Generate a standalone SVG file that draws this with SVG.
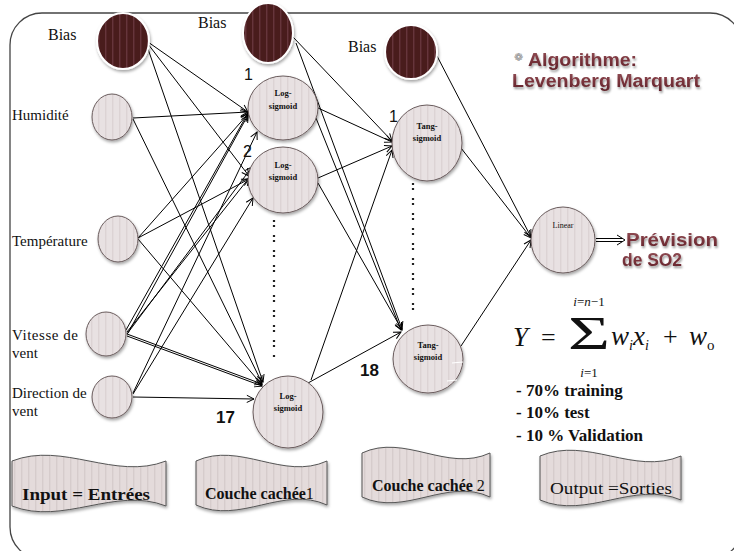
<svg xmlns="http://www.w3.org/2000/svg" width="734" height="551" viewBox="0 0 734 551">
  <defs>
    <style>
      .serif { font-family: "Liberation Serif", "Times New Roman", serif; fill: #111; }
      .sans { font-family: "Liberation Sans", Arial, sans-serif; fill: #111; }
      .lbl { font-size: 15px; }
      .bias-lbl { font-size: 16px; }
      .node-txt { font-size: 8.5px; font-weight: bold; text-anchor: middle; }
      .edge { stroke: #000; stroke-width: 1; fill: none; marker-end: url(#arr); }
      .plain { stroke: #000; stroke-width: 1; fill: none; }
      .neuron { fill: url(#stripeLight); stroke: #6a5c5d; stroke-width: 1; filter: url(#shadow); }
      .bias { fill: url(#stripeDark); stroke: #fff; stroke-width: 2; filter: url(#shadow); }
      .flag { fill: url(#stripeFlag); stroke: #555; stroke-width: 1; filter: url(#shadow); }
      .dots { stroke: #222; stroke-width: 2.2; stroke-dasharray: 2 3 2 8; fill: none; }
      .title { font-family: "Liberation Sans", Arial, sans-serif; font-weight: bold; font-size: 18px; fill: url(#maroon); filter: url(#txtShadow); }
      .flag-txt { font-family: "Liberation Serif", "Times New Roman", serif; font-size: 16px; fill: #111; }
      .stat { font-family: "Liberation Serif", "Times New Roman", serif; font-size: 17px; font-weight: bold; fill: #111; }
      .math { font-family: "Liberation Serif", "Times New Roman", serif; fill: #111; }
    </style>
    <pattern id="stripeLight" width="7" height="10" patternUnits="userSpaceOnUse">
      <rect width="7" height="10" fill="#e8e1e2"/>
      <rect x="0" width="1.4" height="10" fill="#dcd3d4"/>
    </pattern>
    <pattern id="stripeFlag" width="7" height="10" patternUnits="userSpaceOnUse">
      <rect width="7" height="10" fill="#e4dbdb"/>
      <rect x="0" width="1.4" height="10" fill="#d6cccc"/>
    </pattern>
    <pattern id="stripeDark" width="7" height="10" patternUnits="userSpaceOnUse">
      <rect width="7" height="10" fill="#4a1c1f"/>
      <rect x="0" width="1.4" height="10" fill="#66343a"/>
    </pattern>
    <linearGradient id="maroon" x1="0" y1="0" x2="0" y2="1">
      <stop offset="0" stop-color="#94525a"/>
      <stop offset="0.5" stop-color="#7a343c"/>
      <stop offset="1" stop-color="#5e2229"/>
    </linearGradient>
    <filter id="shadow" x="-20%" y="-20%" width="150%" height="150%">
      <feDropShadow dx="1" dy="2" stdDeviation="1.5" flood-color="#000" flood-opacity="0.35"/>
    </filter>
    <filter id="txtShadow" x="-10%" y="-20%" width="120%" height="160%">
      <feDropShadow dx="1" dy="2" stdDeviation="1.2" flood-color="#000" flood-opacity="0.4"/>
    </filter>
    <marker id="arr" viewBox="0 0 10 10" refX="9" refY="5" markerWidth="9" markerHeight="9" markerUnits="userSpaceOnUse" orient="auto">
      <path d="M1,1 L9,5 L1,9" fill="none" stroke="#000" stroke-width="1.1"/>
    </marker>
  </defs>

  <!-- frame -->
  <rect x="10" y="13" width="732" height="546" rx="32" ry="32" fill="#fff" stroke="#444" stroke-width="1.3"/>

  <!-- connectors -->
  <g id="connectors">
    <!-- bias 1 to hidden layer 1 -->
    <line class="edge" x1="148" y1="42" x2="248" y2="112"/>
    <line class="edge" x1="148" y1="44" x2="249" y2="176"/>
    <line class="edge" x1="147" y1="46" x2="263" y2="382"/>
    <!-- humidité -->
    <line class="edge" x1="133" y1="118" x2="248" y2="112"/>
    <line class="edge" x1="133" y1="119" x2="262" y2="383"/>
    <!-- température -->
    <line class="edge" x1="138" y1="238" x2="248" y2="114"/>
    <line class="edge" x1="138" y1="238" x2="249" y2="179"/>
    <line class="edge" x1="138" y1="239" x2="262" y2="385"/>
    <!-- vitesse de vent -->
    <line class="edge" x1="126" y1="330" x2="248" y2="113"/>
    <line class="edge" x1="128" y1="333" x2="248" y2="115"/>
    <line class="edge" x1="127" y1="332" x2="249" y2="178"/>
    <line class="edge" x1="127" y1="334" x2="252" y2="167"/>
    <line class="edge" x1="127" y1="334" x2="262" y2="384"/>
    <line class="edge" x1="127" y1="336" x2="262" y2="386"/>
    <!-- direction de vent -->
    <line class="edge" x1="133" y1="393" x2="257" y2="132"/>
    <line class="edge" x1="133" y1="394" x2="253" y2="198"/>
    <line class="edge" x1="133" y1="397" x2="254" y2="399"/>
    <!-- hidden 1 to hidden 2 -->
    <line class="edge" x1="318" y1="108" x2="392" y2="142"/>
    <line class="edge" x1="318" y1="178" x2="392" y2="146"/>
    <line class="edge" x1="311" y1="380" x2="392" y2="150"/>
    <line class="edge" x1="316" y1="118" x2="401" y2="330"/>
    <line class="edge" x1="318" y1="183" x2="402" y2="330"/>
    <line class="edge" x1="308" y1="383" x2="401" y2="332"/>
    <!-- bias 2 -->
    <line class="edge" x1="293" y1="37" x2="392" y2="141"/>
    <line class="edge" x1="296" y1="43" x2="402" y2="329"/>
    <!-- hidden 2 to output -->
    <line class="edge" x1="437" y1="56" x2="531" y2="237"/>
    <line class="edge" x1="461" y1="148" x2="531" y2="238"/>
    <line class="edge" x1="461" y1="346" x2="531" y2="240"/>
    <!-- output arrow -->
    <line class="plain" x1="596" y1="238.5" x2="622" y2="238.5"/>
    <line class="plain" x1="596" y1="241.5" x2="622" y2="241.5"/>
    <path class="plain" d="M617,235 L625,240 L617,245"/>
  </g>

  <!-- ellipsis between neurons -->
  <line class="dots" x1="274" y1="220" x2="274" y2="360"/>
  <line class="dots" x1="413" y1="183" x2="413" y2="318"/>

  <!-- input labels -->
  <text class="serif bias-lbl" x="48" y="40">Bias</text>
  <text class="serif bias-lbl" x="198" y="28">Bias</text>
  <text class="serif bias-lbl" x="348" y="52">Bias</text>
  <text class="serif lbl" x="12" y="120">Humidité</text>
  <text class="serif lbl" x="12" y="246">Température</text>
  <text class="serif lbl" x="12" y="340" textLength="66" lengthAdjust="spacing">Vitesse de</text>
  <text class="serif lbl" x="12" y="358">vent</text>
  <text class="serif lbl" x="12" y="398">Direction de</text>
  <text class="serif lbl" x="12" y="416">vent</text>

  <!-- bias nodes -->
  <g id="bias1"><ellipse class="bias" cx="123" cy="41" rx="26" ry="28"/></g>
  <g id="bias2"><ellipse class="bias" cx="268" cy="33" rx="25" ry="30"/></g>
  <g id="bias3"><ellipse class="bias" cx="411" cy="52" rx="26" ry="27"/></g>

  <!-- input nodes -->
  <g id="in-humidite"><ellipse class="neuron" cx="112" cy="117" rx="20" ry="23"/></g>
  <g id="in-temperature"><ellipse class="neuron" cx="118" cy="239" rx="20" ry="23"/></g>
  <g id="in-vitesse"><ellipse class="neuron" cx="106" cy="334" rx="20" ry="22"/></g>
  <g id="in-direction"><ellipse class="neuron" cx="112" cy="397" rx="20" ry="21"/></g>

  <!-- hidden layer 1 -->
  <g id="h1-1">
    <ellipse class="neuron" cx="283" cy="108" rx="35" ry="32"/>
    <text class="serif node-txt" x="283" y="96">Log-</text>
    <text class="serif node-txt" x="283" y="109">sigmoid</text>
  </g>
  <g id="h1-2">
    <ellipse class="neuron" cx="283" cy="180" rx="35" ry="33"/>
    <text class="serif node-txt" x="283" y="168">Log-</text>
    <text class="serif node-txt" x="283" y="180">sigmoid</text>
  </g>
  <g id="h1-17">
    <ellipse class="neuron" cx="288" cy="412" rx="35" ry="36"/>
    <text class="serif node-txt" x="288" y="399">Log-</text>
    <text class="serif node-txt" x="288" y="411">sigmoid</text>
  </g>

  <!-- hidden layer 2 -->
  <g id="h2-1">
    <ellipse class="neuron" cx="427" cy="143" rx="35" ry="38"/>
    <text class="serif node-txt" x="427" y="129">Tang-</text>
    <text class="serif node-txt" x="427" y="141">sigmoid</text>
  </g>
  <g id="h2-18">
    <ellipse class="neuron" cx="428" cy="359" rx="35" ry="34"/>
    <text class="serif node-txt" x="428" y="348">Tang-</text>
    <text class="serif node-txt" x="428" y="360">sigmoid</text>
    <line x1="452" y1="363" x2="463" y2="362" stroke="#fff" stroke-width="1.2"/>
    <line x1="447" y1="381" x2="457" y2="380" stroke="#fff" stroke-width="1.2"/>
  </g>

  <!-- output neuron -->
  <g id="out-linear">
    <ellipse class="neuron" cx="563" cy="240" rx="32" ry="33"/>
    <text class="serif" x="563" y="228" font-size="8" text-anchor="middle">Linear</text>
  </g>

  <!-- neuron indices -->
  <text class="sans" x="244" y="80" font-size="16">1</text>
  <text class="sans" x="243" y="157" font-size="16">2</text>
  <text class="sans" x="389" y="122" font-size="16">1</text>
  <text class="sans" x="216" y="423" font-size="17" font-weight="bold">17</text>
  <text class="sans" x="360" y="376" font-size="17" font-weight="bold">18</text>

  <!-- algorithm title -->
  <text x="514" y="61" font-family="DejaVu Sans, sans-serif" font-size="11" fill="#8a8a8a">❁</text>
  <text class="title" x="528" y="66" textLength="109" lengthAdjust="spacingAndGlyphs">Algorithme:</text>
  <text class="title" x="512" y="87" textLength="188" lengthAdjust="spacingAndGlyphs">Levenberg Marquart</text>

  <!-- prediction label -->
  <text class="title" x="626" y="246" textLength="92" lengthAdjust="spacingAndGlyphs">Prévision</text>
  <text class="title" x="622" y="266" textLength="60" lengthAdjust="spacingAndGlyphs">de SO2</text>

  <!-- output equation -->
  <g id="equation" class="math">
    <text x="513" y="346" font-size="27" font-style="italic">Y</text>
    <text x="541" y="346" font-size="26">=</text>
    <text x="568" y="349" font-size="46" textLength="42" lengthAdjust="spacingAndGlyphs">Σ</text>
    <text x="589" y="306" font-size="13" font-style="italic" text-anchor="middle">i<tspan font-style="normal">=</tspan>n<tspan font-style="normal">−1</tspan></text>
    <text x="589" y="377" font-size="13" font-style="italic" text-anchor="middle">i<tspan font-style="normal">=1</tspan></text>
    <text x="611" y="345" font-size="27" font-style="italic">w<tspan font-size="14" dy="5">i</tspan><tspan dy="-5">x</tspan><tspan font-size="14" dy="5">i</tspan></text>
    <text x="663" y="345" font-size="26">+</text>
    <text x="689" y="345" font-size="27" font-style="italic">w<tspan font-size="15" font-style="normal" dy="5">o</tspan></text>
  </g>

  <!-- data split -->
  <text class="stat" x="516" y="396">- 70% training</text>
  <text class="stat" x="516" y="418">- 10% test</text>
  <text class="stat" x="516" y="441">- 10 % Validation</text>

  <!-- layer banners (punched-tape shape) -->
  <g id="banner-input">
    <path class="flag" d="M12,461 C63,441 115,481 166,461 L166,506 C115,486 63,526 12,506 Z"/>
    <text class="flag-txt" x="22" y="500" font-weight="bold" font-size="17.5" textLength="128" lengthAdjust="spacingAndGlyphs">Input = Entrées</text>
  </g>
  <g id="banner-hidden1">
    <path class="flag" d="M196,461 C239.7,441 283.3,481 327,461 L327,505 C283.3,485 239.7,525 196,505 Z"/>
    <text class="flag-txt" x="205" y="499"><tspan font-weight="bold">Couche cachée</tspan>1</text>
  </g>
  <g id="banner-hidden2">
    <path class="flag" d="M362,453 C404.7,433 447.3,473 490,453 L490,497 C447.3,477 404.7,517 362,497 Z"/>
    <text class="flag-txt" x="372" y="491" font-size="15.5"><tspan font-weight="bold">Couche cachée</tspan> 2</text>
  </g>
  <g id="banner-output">
    <path class="flag" d="M540,456 C587,436 634,476 681,456 L681,500 C634,480 587,520 540,500 Z"/>
    <text class="flag-txt" x="550" y="494" font-size="18" textLength="122" lengthAdjust="spacingAndGlyphs">Output =Sorties</text>
  </g>
</svg>
